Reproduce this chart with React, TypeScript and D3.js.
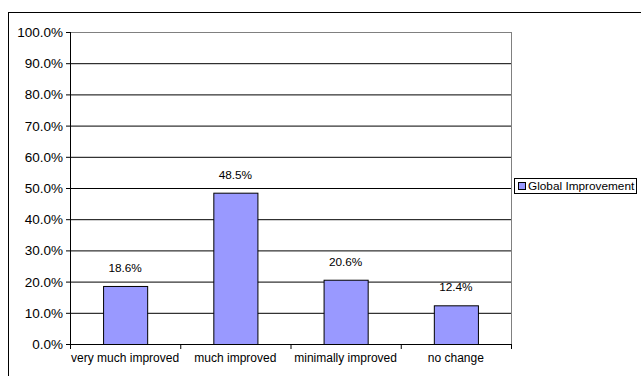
import * as d3 from "d3";

const categories = ["very much improved", "much improved", "minimally improved", "no change"];
const values = [18.6, 48.5, 20.6, 12.4];
const yTicks = [0, 10, 20, 30, 40, 50, 60, 70, 80, 90, 100];
const seriesName = "Global Improvement";

export default function App() {
  const width = 641;
  const height = 376;
  const left = 70;
  const right = 511;
  const top = 32;
  const bottom = 344;
  const font = "'Liberation Sans', Arial, sans-serif";

  const x = d3.scaleBand<string>().domain(categories).range([left, right]).paddingInner(0.6).paddingOuter(0.3);
  const band = d3.scaleBand<string>().domain(categories).range([left, right]);
  const y = d3.scaleLinear().domain([0, 100]).range([bottom, top]);

  return (
    <svg
      width={width}
      height={height}
      style={{ position: "absolute", left: 0, top: 0, background: "#fff" }}
      fontFamily={font}
    >
      {/* outer chart border */}
      <rect x={8.5} y={12.5} width={width} height={height} fill="none" stroke="#000" strokeWidth={1} />

      {/* gridlines */}
      {yTicks.map((t) => (
        <line
          key={t}
          x1={left}
          x2={right}
          y1={y(t) + 0.5}
          y2={y(t) + 0.5}
          stroke={t === 100 ? "#808080" : "#000"}
          strokeWidth={1}
        />
      ))}
      {/* plot area right edge */}
      <line x1={right + 0.5} x2={right + 0.5} y1={top} y2={bottom} stroke="#808080" />

      {/* bars */}
      {values.map((v, i) => (
        <g key={categories[i]}>
          <rect
            x={x(categories[i])! + 0.5}
            y={y(v) + 0.5}
            width={x.bandwidth()}
            height={y(0) - y(v)}
            fill="#9999FF"
            stroke="#000"
            strokeWidth={1}
          />
          <text
            x={x(categories[i])! + x.bandwidth() / 2}
            y={y(v) - 14}
            textAnchor="middle"
            fontSize={11.8}
            fill="#000"
          >
            {v.toFixed(1)}%
          </text>
        </g>
      ))}

      {/* y axis */}
      <line x1={left + 0.5} x2={left + 0.5} y1={top} y2={bottom + 1} stroke="#000" />
      {yTicks.map((t) => (
        <g key={t}>
          <line x1={left - 4} x2={left} y1={y(t) + 0.5} y2={y(t) + 0.5} stroke="#000" />
          <text x={left - 7} y={y(t) + 5} textAnchor="end" fontSize={13.5} fill="#000">
            {t.toFixed(1)}%
          </text>
        </g>
      ))}

      {/* x axis */}
      <line x1={left} x2={right + 1} y1={bottom + 0.5} y2={bottom + 0.5} stroke="#000" />
      {[...categories.map((c) => band(c)!), right].map((p, i) => (
        <line key={i} x1={p + 0.5} x2={p + 0.5} y1={bottom} y2={bottom + 5} stroke="#000" />
      ))}
      {categories.map((c) => (
        <text
          key={c}
          x={band(c)! + band.bandwidth() / 2}
          y={bottom + 18}
          textAnchor="middle"
          fontSize={12}
          fill="#000"
        >
          {c}
        </text>
      ))}

      {/* legend */}
      <rect x={514.5} y={178.5} width={122} height={15} fill="#fff" stroke="#000" />
      <rect x={518.5} y={182.5} width={7} height={7} fill="#9999FF" stroke="#000" />
      <text x={528} y={190} fontSize={11.8} fill="#000">
        {seriesName}
      </text>
    </svg>
  );
}
